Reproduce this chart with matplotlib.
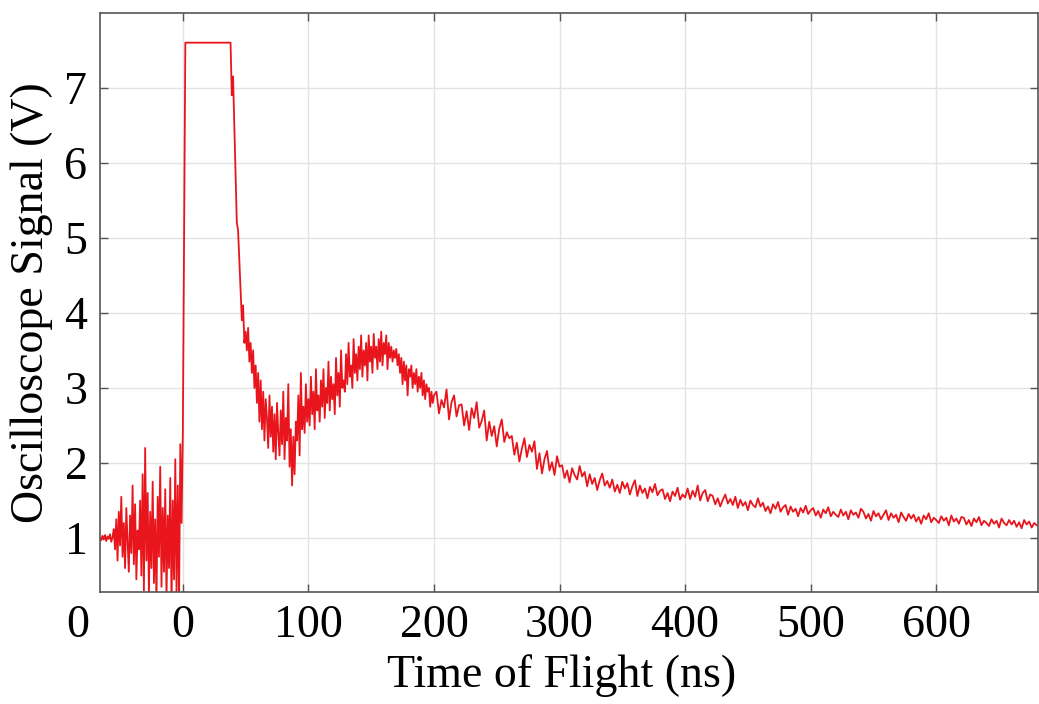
import matplotlib
matplotlib.use("Agg")
import matplotlib.pyplot as plt
import matplotlib.transforms as mtransforms
import numpy as np

plt.rcParams['font.family'] = ['Liberation Serif', 'DejaVu Serif']

# pre-trigger noise, t = -66 .. -1 ns (1 ns step)
pre_start = -66
pre_v = [1.00, 0.97, 1.03, 0.98, 1.04, 0.96, 1.02, 0.99, 1.05, 0.95, 1.01,
         1.12, 0.85, 1.25, 0.70, 1.35, 0.90, 1.55, 0.75, 1.20, 0.60, 1.40,
         0.95, 0.55, 1.30, 0.80, 1.70, 0.65, 1.45, 0.45, 1.10, 0.85,
         1.50, 0.50, 1.85, 0.30, 2.20, 0.70, 1.60, 0.25, 1.35, 0.60,
         1.75, 0.40, 1.25, 0.15, 1.55, 0.75, 1.95, 0.35, 1.40, 0.55,
         1.65, 0.20, 1.30, 0.60, 1.80, 0.10, 1.50, 0.45, 2.05, 0.25,
         1.70, 0.15, 2.25, 1.20]

# trigger and saturated part, t = 0 .. 37 ns
sat_start = 0
sat_v = [2.4, 5.0] + [7.6] * 36

# fall after saturation, t = 38 .. 60 ns
fall_start = 38
fall_v = [7.6, 6.9, 7.15, 6.5, 5.9, 5.2, 5.1, 4.7, 4.3, 3.9, 4.1, 3.6, 3.75,
          3.5, 3.8, 3.35, 3.6, 3.2, 3.5, 3.0, 3.3, 2.8, 3.2]

# dip and second hump, t = 61 .. 200 ns
hump_start = 61
hump_v = [2.55, 3.10, 2.45, 2.95, 2.30, 2.85, 2.60, 2.20, 2.90, 2.35,
          2.75, 2.15, 2.65, 2.05, 2.80, 2.40, 2.10, 2.70, 2.25, 2.95,
          2.05, 2.60, 2.30, 3.05, 1.95, 2.45, 1.70, 2.35, 1.85, 2.55,
          2.30, 2.90, 2.10, 3.20, 2.45, 2.75, 2.40, 3.05, 2.55, 2.85,
          2.50, 3.15, 2.65, 2.95, 2.45, 3.25, 2.70, 2.90, 2.55, 3.10,
          2.75, 3.25, 2.60, 3.00, 2.80, 3.35, 2.70, 3.15, 2.85, 3.05,
          2.65, 3.40, 2.90, 3.20, 2.75, 3.50, 3.00, 3.10, 2.95, 3.45,
          3.05, 3.60, 3.15, 3.30, 3.00, 3.65, 3.20, 3.45, 3.10, 3.55,
          3.25, 3.70, 3.15, 3.50, 3.30, 3.60, 3.10, 3.70, 3.35, 3.55,
          3.20, 3.72, 3.40, 3.55, 3.25, 3.65, 3.35, 3.75, 3.30, 3.60,
          3.45, 3.70, 3.25, 3.60, 3.40, 3.55, 3.35, 3.50, 3.40, 3.52,
          3.30, 3.45, 3.20, 3.40, 3.05, 3.35, 3.10, 3.30, 2.90, 3.25,
          3.15, 3.30, 3.00, 3.20, 3.05, 3.25, 2.95, 3.15, 3.00, 3.20,
          2.90, 3.10, 2.85, 3.05, 2.95, 3.00, 2.75, 2.95, 2.80, 2.90]

# slow decay tail, t = 202 .. 680 ns (2 ns step)
tail_start = 202
tail_v = [2.95, 2.66, 2.84, 2.74, 2.98, 2.58, 2.81, 2.90, 2.62, 2.77,
          2.78, 2.50, 2.69, 2.44, 2.73, 2.60, 2.81, 2.47, 2.56, 2.70,
          2.30, 2.55, 2.36, 2.49, 2.22, 2.46, 2.58, 2.28, 2.41, 2.33,
          2.36, 2.11, 2.27, 2.02, 2.19, 2.33, 2.08, 2.24, 2.15, 2.29,
          1.92, 2.13, 1.86, 2.05, 2.16, 1.90, 2.01, 1.84, 2.09, 1.95,
          1.97, 1.80, 1.90, 1.74, 1.93, 1.84, 1.78, 1.96, 1.82, 1.88,
          1.69, 1.85, 1.72, 1.80, 1.64, 1.77, 1.86, 1.70, 1.76, 1.67,
          1.78, 1.62, 1.71, 1.60, 1.75, 1.66, 1.73, 1.58, 1.69, 1.77,
          1.56, 1.70, 1.60, 1.66, 1.53, 1.68, 1.61, 1.72, 1.57, 1.63,
          1.65, 1.52, 1.60, 1.49, 1.62, 1.56, 1.67, 1.51, 1.58, 1.54,
          1.66, 1.52, 1.63, 1.55, 1.70, 1.50, 1.60, 1.64, 1.49, 1.58,
          1.56, 1.45, 1.53, 1.42, 1.51, 1.58, 1.46, 1.52, 1.44, 1.55,
          1.40, 1.51, 1.43, 1.48, 1.37, 1.50, 1.44, 1.41, 1.53, 1.42,
          1.47, 1.36, 1.42, 1.33, 1.45, 1.39, 1.48, 1.35, 1.41, 1.44,
          1.31, 1.42, 1.35, 1.39, 1.29, 1.40, 1.34, 1.43, 1.32, 1.37,
          1.40, 1.30, 1.36, 1.27, 1.38, 1.33, 1.41, 1.29, 1.35, 1.31,
          1.28, 1.38, 1.30, 1.35, 1.25, 1.37, 1.31, 1.34, 1.27, 1.39,
          1.35, 1.26, 1.32, 1.23, 1.36, 1.29, 1.33, 1.25, 1.31, 1.37,
          1.24, 1.33, 1.27, 1.31, 1.21, 1.34, 1.28, 1.23, 1.32, 1.26,
          1.31, 1.22, 1.28, 1.19, 1.30, 1.25, 1.33, 1.21, 1.27, 1.24,
          1.20, 1.29, 1.23, 1.27, 1.17, 1.30, 1.22, 1.26, 1.19, 1.28,
          1.27, 1.18, 1.24, 1.16, 1.26, 1.21, 1.28, 1.17, 1.23, 1.20,
          1.16, 1.25, 1.19, 1.23, 1.14, 1.26, 1.20, 1.17, 1.24, 1.18,
          1.23, 1.15, 1.21, 1.13, 1.24, 1.18, 1.22, 1.14, 1.20, 1.17]

x_ticks = [0, 100, 200, 300, 400, 500, 600]
y_ticks = [1, 2, 3, 4, 5, 6, 7]

segs = [(pre_start, 1, pre_v), (sat_start, 1, sat_v), (fall_start, 1, fall_v),
        (hump_start, 1, hump_v), (tail_start, 2, tail_v)]
t = np.concatenate([s + step * np.arange(len(v)) for s, step, v in segs])
v = np.concatenate([np.array(v) for s, step, v in segs])

fig = plt.figure(figsize=(10.39, 7.04), dpi=100)
ax = fig.add_axes([0.0962, 0.159, 0.9028, 0.823])
ax.plot(t, v, color='#e8161c', lw=1.3)

ax.set_xlim(-66, 681)
ax.set_ylim(0.28, 8.0)
ax.set_xticks(x_ticks)
ax.set_yticks(y_ticks)
ax.grid(True, color='#e3e3e3', lw=1.0)
ax.set_axisbelow(True)
for sp in ax.spines.values():
    sp.set_color('#555555')
    sp.set_linewidth(1.2)
ax.tick_params(direction='in', length=6, width=1.0, color='#555555',
               top=True, right=True, labelsize=33, pad=9)

# stray "0" left of the axis, as in the source figure
trans = mtransforms.blended_transform_factory(ax.transData, ax.transAxes)
ax.text(-84, -0.021, '0', transform=trans, fontsize=33, ha='center', va='top')

ax.set_xlabel('Time of Flight (ns)', fontsize=33, labelpad=2)
ax.xaxis.set_label_coords(0.492, -0.107)
ax.set_ylabel('Oscilloscope Signal (V)', fontsize=33, labelpad=8)

fig.savefig('out.png', dpi=100)
